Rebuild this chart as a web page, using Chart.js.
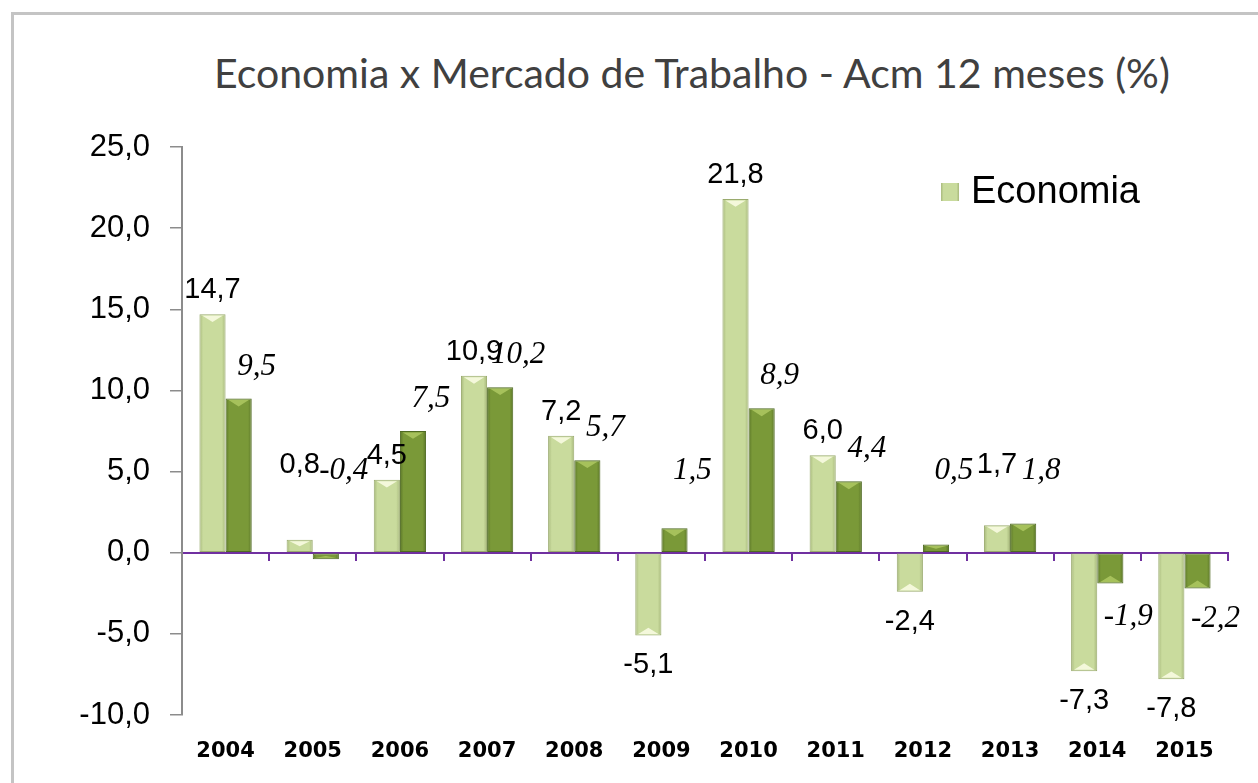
<!DOCTYPE html>
<html>
<head>
<meta charset="utf-8">
<script src="https://cdn.jsdelivr.net/npm/chart.js@4.4.1/dist/chart.umd.min.js"></script>
<style>
  html, body { margin: 0; padding: 0; background: #fff; overflow: hidden; }
  #wrap { position: relative; width: 1258px; height: 783px; }
  #frame {
    position: absolute; left: 11px; top: 12px; width: 1300px; height: 800px;
    border: 3px solid #c4c4c4; box-sizing: border-box;
  }
  #title {
    position: absolute; left: 0; top: 48px; width: 1384px; text-align: center;
    font-family: Lato, "Open Sans", sans-serif; font-size: 41px; color: #404040;
    line-height: 1.2;
  }
  canvas { position: absolute; left: 0; top: 0; }
</style>
</head>
<body>
<div id="wrap">
  <div id="frame"></div>
  <div id="title">Economia x Mercado de Trabalho - Acm 12 meses (%)</div>
  <canvas id="chart" width="1258" height="783"></canvas>
</div>
<script>
// ── DATA ─────────────────────────────────────────────────────────
const years    = ["2004", "2005", "2006", "2007", "2008", "2009", "2010", "2011", "2012", "2013", "2014", "2015"];
const economia = [14.7, 0.8, 4.5, 10.9, 7.2, -5.1, 21.8, 6.0, -2.4, 1.7, -7.3, -7.8];
const trabalho = [9.5, -0.4, 7.5, 10.2, 5.7, 1.5, 8.9, 4.4, 0.5, 1.8, -1.9, -2.2];

const fmt = v => v.toFixed(1).replace(".", ",");

// colours: [edge, centre] for the bevel look
const lightBar = ["#a7b87b", "#c9db9d"];
const darkBar  = ["#5b7628", "#7a9938"];

function barGradient(ctx, l, r, cols) {
  const g = ctx.createLinearGradient(l, 0, r, 0);
  g.addColorStop(0, cols[0]);
  g.addColorStop(0.14, cols[1]);
  g.addColorStop(0.86, cols[1]);
  g.addColorStop(1, cols[0]);
  return g;
}

// ── BAR SHADING (gradient + end bevel) ───────────────────────────
const bevelPlugin = {
  id: "bevel",
  beforeDatasetsDraw(chart) {
    const ctx = chart.ctx;
    chart.data.datasets.forEach((ds, di) => {
      const cols = di === 0 ? lightBar : darkBar;
      chart.getDatasetMeta(di).data.forEach(el => {
        el.options.backgroundColor = barGradient(ctx, el.x - el.width / 2, el.x + el.width / 2, cols);
      });
    });
  },
  afterDatasetsDraw(chart) {
    const ctx = chart.ctx;
    const zero = chart.scales.y.getPixelForValue(0);
    chart.data.datasets.forEach((ds, di) => {
      chart.getDatasetMeta(di).data.forEach(el => {
        const w = el.width;
        const l = el.x - w / 2 + 3, r = el.x + w / 2 - 3;
        const end = el.y;
        const dir = end < zero ? 1 : -1;
        const h = Math.min(Math.abs(zero - end) / 2, w * 0.3);
        ctx.save();
        ctx.fillStyle = di === 0 ? "rgba(255,255,235,0.8)" : "rgba(190,215,110,0.65)";
        ctx.beginPath();
        ctx.moveTo(l, end + dir * 1.5);
        ctx.lineTo(r, end + dir * 1.5);
        ctx.lineTo(el.x, end + dir * h);
        ctx.closePath();
        ctx.fill();
        ctx.restore();
      });
    });
  },
};

// ── DATA LABELS + LEGEND ─────────────────────────────────────────
const labelPlugin = {
  id: "valueLabels",
  afterDatasetsDraw(chart) {
    const ctx  = chart.ctx;
    const zero = chart.scales.y.getPixelForValue(0);
    ctx.save();
    ctx.fillStyle = "#000";
    ctx.textAlign = "center";
    ctx.textBaseline = "middle";
    chart.data.datasets.forEach((ds, di) => {
      chart.getDatasetMeta(di).data.forEach((el, i) => {
        const v = ds.data[i];
        let x = el.x, y;
        if (di === 0) {
          ctx.font = "29px 'Liberation Sans', Arial, sans-serif";
          if (Math.abs(v) < 1 || v > 0) y = Math.min(el.y - 24, zero - 88);
          else y = el.y + 30;
        } else {
          ctx.font = "italic 31px 'Liberation Serif', serif";
          x = el.x + 18;
          if (Math.abs(v) < 1 || v > 0) y = Math.min(el.y - 32, zero - 82);
          else y = Math.max(el.y + 30, zero + 64);
        }
        ctx.fillText(fmt(v), x, y);
      });
    });
    ctx.restore();
  },
  afterDraw(chart) {
    // legend: only the first series is listed, inside the plot
    const ctx = chart.ctx;
    const area = chart.chartArea;
    const text = chart.data.datasets[0].label;
    ctx.save();
    ctx.font = "38px 'Liberation Sans', Arial, sans-serif";
    const tw = ctx.measureText(text).width;
    const tx = area.right - 88 - tw;
    const cy = area.top + 45;
    ctx.fillStyle = barGradient(ctx, tx - 30, tx - 12, lightBar);
    ctx.fillRect(tx - 30, cy - 9, 18, 18);
    ctx.fillStyle = "#000";
    ctx.textBaseline = "middle";
    ctx.textAlign = "left";
    ctx.fillText(text, tx, cy + 1);
    ctx.restore();
  },
};

// ── CHART ────────────────────────────────────────────────────────
const purple = "#7030a0";
const axisGray = "#8c8c8c";

new Chart(document.getElementById("chart"), {
  type: "bar",
  data: {
    labels: years,
    datasets: [
      { label: "Economia", data: economia, backgroundColor: () => lightBar[1],
        borderColor: "#9aab6e", borderWidth: 1, borderSkipped: false },
      { label: "Mercado de Trabalho", data: trabalho, backgroundColor: () => darkBar[1],
        borderColor: "#4f6a22", borderWidth: 1, borderSkipped: false },
    ],
  },
  options: {
    responsive: false,
    animation: false,
    devicePixelRatio: 1,
    layout: { padding: { left: 20, right: 30, top: 147, bottom: 22 } },
    datasets: { bar: { categoryPercentage: 0.6, barPercentage: 1 } },
    plugins: {
      title: { display: false },
      legend: { display: false },
      tooltip: { enabled: false },
    },
    scales: {
      x: {
        position: "bottom",
        afterFit: s => { s.height = 46; },
        grid: { display: false },
        border: { display: false },
        ticks: {
          color: "#000",
          padding: 16,
          font: { family: "'DejaVu Sans', Verdana, sans-serif", size: 21, weight: "bold" },
        },
      },
      xZero: {
        type: "category",
        labels: years,
        position: { y: 0 },
        offset: true,
        grid: { offset: true, drawOnChartArea: false, color: purple, lineWidth: 2, tickLength: 7 },
        border: { color: purple, width: 2 },
        ticks: { display: false },
      },
      y: {
        min: -10,
        max: 25,
        afterFit: s => { s.width = 162; },
        grid: { drawOnChartArea: false, color: axisGray, lineWidth: 1.5, tickLength: 12 },
        border: { color: axisGray, width: 2 },
        ticks: {
          stepSize: 5,
          color: "#000",
          padding: 20,
          font: { family: "'Liberation Sans', Arial, sans-serif", size: 31 },
          callback: v => fmt(v),
        },
      },
    },
  },
  plugins: [bevelPlugin, labelPlugin],
});
</script>
</body>
</html>
